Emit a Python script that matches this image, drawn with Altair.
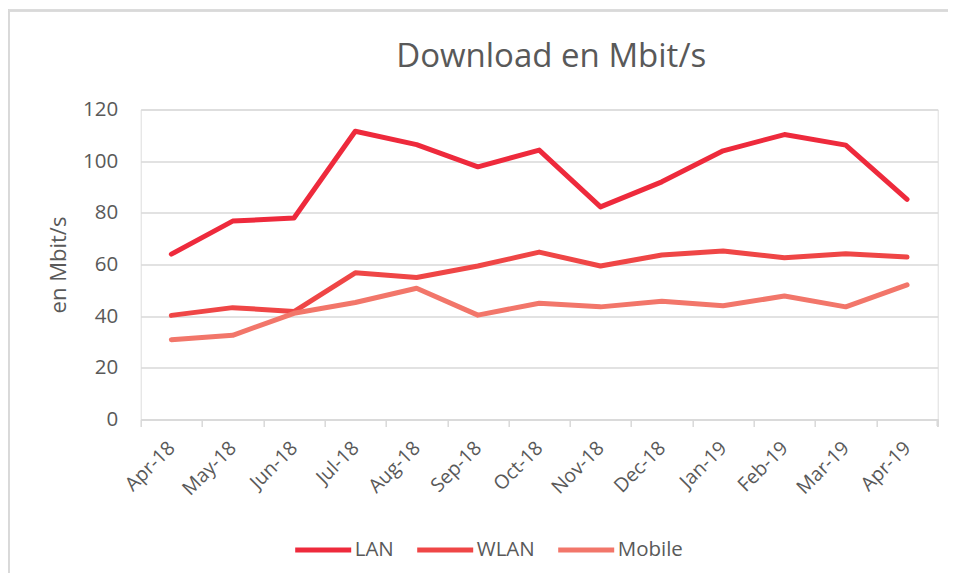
import altair as alt
import pandas as pd

months = ["Apr-18", "May-18", "Jun-18", "Jul-18", "Aug-18", "Sep-18", "Oct-18",
          "Nov-18", "Dec-18", "Jan-19", "Feb-19", "Mar-19", "Apr-19"]
lan = [64.0, 76.8, 78.0, 111.6, 106.4, 97.8, 104.3, 82.3, 92.0, 104.0, 110.3, 106.2, 85.2]
wlan = [40.3, 43.3, 41.8, 56.8, 55.0, 59.4, 64.8, 59.4, 63.7, 65.2, 62.6, 64.2, 62.9]
mobile = [30.9, 32.6, 41.1, 45.3, 50.8, 40.4, 45.0, 43.6, 45.8, 44.0, 47.8, 43.6, 52.1]
series = ["LAN", "WLAN", "Mobile"]
colors = ["#EE2A3C", "#EF4646", "#F2766A"]
y_ticks = [0, 20, 40, 60, 80, 100, 120]

rows = []
for name, vals in zip(series, [lan, wlan, mobile]):
    for m, v in zip(months, vals):
        rows.append({"Monat": m, "Wert": v, "Serie": name})
df = pd.DataFrame(rows)

W, H = 797, 310
FONT = "Open Sans"
TXT = "#595959"
GRID = "#D9D9D9"

lines = alt.Chart(df).mark_line(strokeWidth=5, strokeCap="round", strokeJoin="round").encode(
    x=alt.X("Monat:N", sort=months, title=None,
            scale=alt.Scale(type="point", padding=0.5),
            axis=alt.Axis(labelAngle=-45, labelAlign="right", labelBaseline="middle",
                          tickOffset=-W / 26, labelOffset=W / 26,
                          labelPadding=18, grid=False,
                          domainColor=GRID, domainWidth=1.5,
                          tickColor=GRID, tickWidth=1.5, tickSize=7,
                          labelColor=TXT, labelFontSize=19.5, labelFont=FONT)),
    y=alt.Y("Wert:Q", title="en Mbit/s",
            scale=alt.Scale(domain=[0, 120], nice=False),
            axis=alt.Axis(values=y_ticks, domain=False, ticks=False,
                          gridColor=GRID, gridWidth=1.5,
                          labelPadding=23, labelColor=TXT, labelFontSize=20.5, labelFont=FONT,
                          titleColor=TXT, titleFontSize=22, titleFont=FONT,
                          titleFontWeight="normal", titlePadding=12)),
    color=alt.Color("Serie:N", sort=series,
                    scale=alt.Scale(domain=series, range=colors),
                    legend=alt.Legend(title=None, orient="none", direction="horizontal",
                                      legendX=152, legendY=410,
                                      symbolType="stroke", symbolSize=3136,
                                      symbolStrokeWidth=5, columnPadding=12,
                                      labelOffset=1, labelFontSize=20.5, labelFont=FONT,
                                      labelColor=TXT)),
)

end_tick = alt.Chart(df).mark_rule(color=GRID, strokeWidth=1.5).encode(
    x=alt.value(W), y=alt.value(H), y2=alt.value(H + 7)
)

frame_left = alt.Chart(df).mark_rule(color=GRID, strokeWidth=1.5).encode(
    x=alt.value(-132), y=alt.value(-99), y2=alt.value(H + 160)
)
frame_top = alt.Chart(df).mark_rule(color=GRID, strokeWidth=1.5).encode(
    x=alt.value(-132), x2=alt.value(W + 30), y=alt.value(-99)
)

chart = alt.layer(frame_left, frame_top, lines, end_tick).properties(
    width=W, height=H,
    title=alt.TitleParams("Download en Mbit/s", font=FONT, fontSize=33, fontWeight="normal",
                          color=TXT, anchor="middle", frame="group", dx=12,
                          baseline="alphabetic", offset=0, dy=90),
    autosize=alt.AutoSizeParams(type="none"),
    padding={"left": 132.7, "top": 101.5, "right": 10.3, "bottom": 153.5},
).configure_view(stroke=None).configure(background="white")

chart.save("out.html", embed_options={"renderer": "svg", "actions": False})
